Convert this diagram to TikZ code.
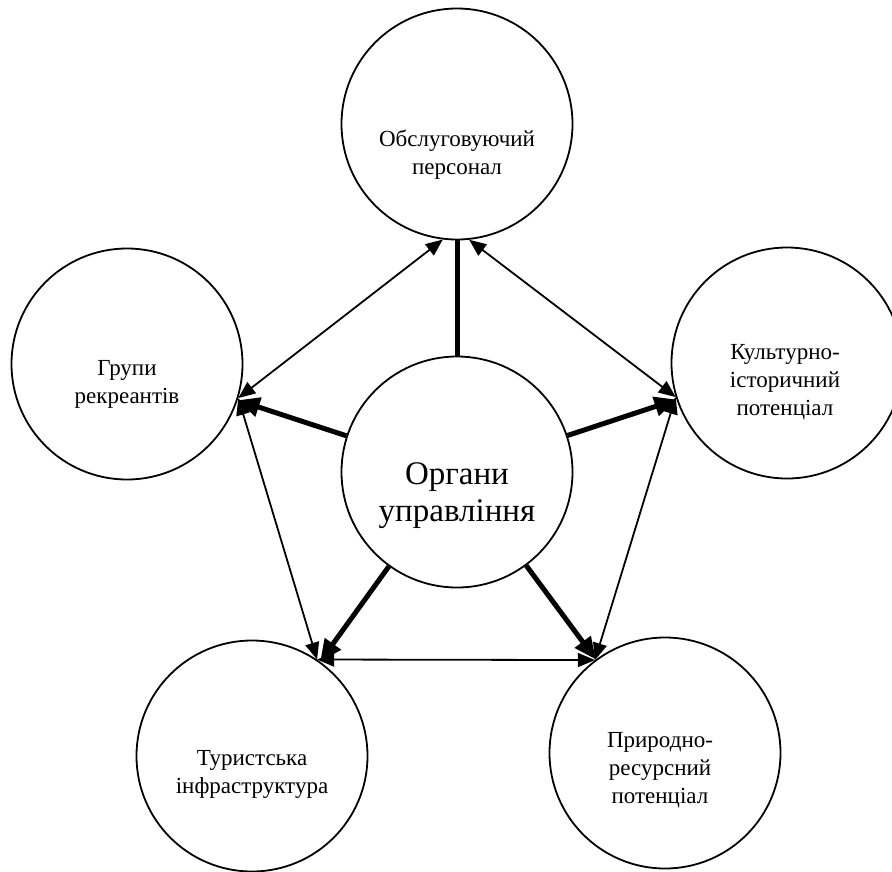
\documentclass[tikz,border=0pt]{standalone}
\usepackage{fontspec}
\setmainfont{Liberation Serif}
\usetikzlibrary{arrows.meta}
\begin{document}
\begin{tikzpicture}[x=1pt,y=-1pt,
  circ/.style={circle, draw, line width=1.8pt, minimum size=231pt, inner sep=0pt},
  lbl/.style={align=center, font=\fontsize{23}{28}\selectfont},
  biglbl/.style={align=center, font=\fontsize{33}{37}\selectfont},
  link/.style={{Triangle[length=17pt,width=14pt]}-{Triangle[length=17pt,width=14pt]}, line width=1.8pt},
  rule/.style={line width=5pt},
  rulearrow/.style={rule, -{Triangle[length=22pt,width=19pt]}}]
\useasboundingbox (0,0) rectangle (892,871);

% circles
\node[circ] (staff)   at (457,124) {};
\node[circ] (groups)  at (127,364) {};
\node[circ] (culture) at (787,363) {};
\node[circ] (gov)     at (457,472) {};
\node[circ] (infra)   at (252,756) {};
\node[circ] (nature)  at (665,753) {};

% labels
\node[lbl] (staff-t)   at (457,155) {Обслуговуючий\\персонал};
\node[lbl] (groups-t)  at (127,384) {Групи\\рекреантів};
\node[lbl] (culture-t) at (785,382) {Культурно-\\історичний\\потенціал};
\node[biglbl] (gov-t)  at (457,496) {Органи\\управління};
\node[lbl] (infra-t)   at (252,774) {Туристська\\інфраструктура};
\node[lbl] (nature-t)  at (660,770) {Природно-\\ресурсний\\потенціал};

% links from the governing body
\draw[rule] (gov) -- (staff);
\draw[rulearrow] (gov) -- (groups);
\draw[rulearrow] (gov) -- (culture);
\draw[rulearrow] (gov) -- (infra);
\draw[rulearrow] (gov) -- (nature);

% mutual links around the ring
\draw[link] (staff.263) -- (groups.-17);
\draw[link] (staff.276) -- (culture.197);
\draw[link] (groups.-17) -- (infra.56);
\draw[link] (culture.197) -- (nature.127);
\draw[link] (infra.56) -- (nature.127);
\end{tikzpicture}
\end{document}
